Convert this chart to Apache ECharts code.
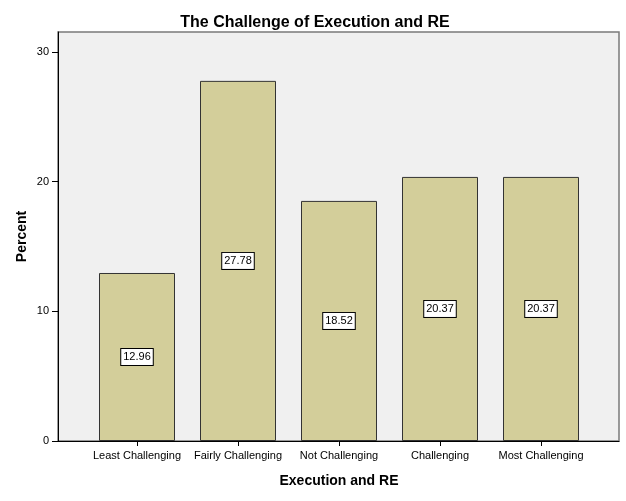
<!DOCTYPE html>
<html><head><meta charset="utf-8">
<script src="https://cdn.jsdelivr.net/npm/echarts@6/dist/echarts.min.js"></script>
<style>html,body{margin:0;padding:0;background:#fff}#c{width:626px;height:501px}</style>
</head><body><div id="c"></div>
<script>
const categories = ['Least Challenging','Fairly Challenging','Not Challenging','Challenging','Most Challenging'];
const percents = [12.96, 27.78, 18.52, 20.37, 20.37];
const yTicks = [0, 10, 20, 30];
const yMax = 31.55;

const chart = echarts.init(document.getElementById('c'), null, {renderer:'canvas'});
const font = 'Arial, "Liberation Sans", sans-serif';
chart.setOption({
  animation: false,
  title: {
    text: 'The Challenge of Execution and RE', left: 310, top: 10, textAlign: 'center',
    textStyle: {fontFamily: font, fontSize: 16, fontWeight: 'bold', color: '#000'}
  },
  grid: [
    {left: 58, right: 7, top: 32, bottom: 60, show: true, backgroundColor: '#f0f0f0', borderColor: '#7a7a7a', borderWidth: 1.5},
    {left: 86.5, width: 505, top: 32, bottom: 60}
  ],
  xAxis: [
    {gridIndex: 0, type: 'value', min: 0, max: 1, show: true,
     axisLine: {show: true, onZero: false, lineStyle: {color: '#000', width: 1}},
     axisTick: {show: false}, axisLabel: {show: false}, splitLine: {show: false}},
    {gridIndex: 1, type: 'category', data: categories, boundaryGap: true,
     axisLine: {show: false},
     axisTick: {show: true, alignWithLabel: true, length: 5, lineStyle: {color: '#000'}},
     axisLabel: {fontFamily: font, fontSize: 11, color: '#000', margin: 9, interval: 0},
     name: 'Execution and RE', nameLocation: 'middle', nameGap: 33,
     nameTextStyle: {fontFamily: font, fontSize: 14, fontWeight: 'bold', color: '#000'}}
  ],
  yAxis: [
    {gridIndex: 0, type: 'value', min: 0, max: yMax,
     axisLine: {show: true, lineStyle: {color: '#000', width: 1}},
     axisTick: {show: true, length: 6, lineStyle: {color: '#000'}, customValues: yTicks},
     axisLabel: {fontFamily: font, fontSize: 11, color: '#000', margin: 9, customValues: yTicks},
     splitLine: {show: false},
     name: 'Percent', nameLocation: 'middle', nameGap: 36, nameRotate: 90, nameMoveOverlap: false,
     nameTextStyle: {fontFamily: font, fontSize: 14, fontWeight: 'bold', color: '#000', verticalAlign: 'middle'}},
    {gridIndex: 1, type: 'value', min: 0, max: yMax, show: false}
  ],
  series: [{
    type: 'bar', xAxisIndex: 1, yAxisIndex: 1, data: percents, barWidth: 76,
    itemStyle: {color: '#d3ce9a', borderColor: '#333', borderWidth: 1},
    label: {show: true, position: 'inside', formatter: p => p.value.toFixed(2),
      fontFamily: font, fontSize: 11, color: '#000', backgroundColor: '#fff',
      borderColor: '#000', borderWidth: 1, padding: [3, 2, 2, 2]}
  }]
});
</script></body></html>
